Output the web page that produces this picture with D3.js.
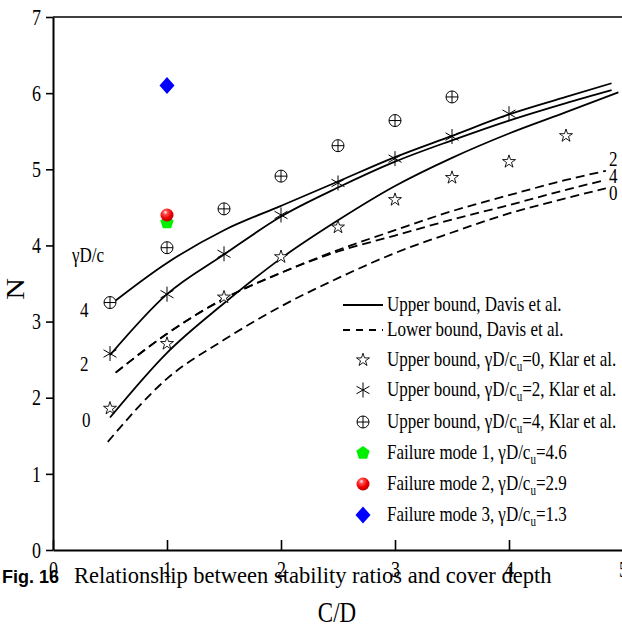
<!DOCTYPE html>
<meta charset="utf-8">
<script src="https://d3js.org/d3.v7.min.js"></script>
<style>
    body { margin: 0; background: #fff; }
    text { fill: #000; }
</style>
<div id="stability"></div>

<script>

    // Davis et al. bounds, one curve per gamma*D/c value
    const ubX = [0.5, 1, 1.5, 2, 2.5, 3, 3.5, 4, 4.5, 4.9];
    const ub4 = [3.22, 3.77, 4.2, 4.52, 4.84, 5.16, 5.44, 5.72, 5.95, 6.13];
    const ub2 = [2.56, 3.36, 3.88, 4.38, 4.76, 5.1, 5.38, 5.64, 5.87, 6.04];
    const ub0X = [0.5, 1, 1.5, 2, 2.5, 3, 3.5, 4, 4.5, 4.96];
    const ub0 = [1.74, 2.59, 3.24, 3.83, 4.33, 4.78, 5.15, 5.47, 5.75, 6.01];

    const lbX = [0.55, 1, 1.5, 2, 2.5, 3, 3.5, 4, 4.5, 4.85];
    const lb2 = [2.33, 2.84, 3.3, 3.64, 3.94, 4.2, 4.45, 4.66, 4.86, 4.98];
    const lb4 = [2.33, 2.84, 3.3, 3.64, 3.92, 4.13, 4.34, 4.53, 4.73, 4.86];
    const lb0X = [0.48, 1, 1.5, 2, 2.5, 3, 3.5, 4, 4.5, 4.85];
    const lb0 = [1.42, 2.25, 2.76, 3.2, 3.57, 3.9, 4.17, 4.42, 4.62, 4.75];

    // Klar et al. upper bound points
    const klar0X = [0.5, 1, 1.5, 2, 2.5, 3, 3.5, 4, 4.5];
    const klar0 = [1.86, 2.71, 3.32, 3.85, 4.24, 4.6, 4.89, 5.1, 5.44];
    const klar2X = [0.5, 1, 1.5, 2, 2.5, 3, 3.5, 4];
    const klar2 = [2.58, 3.36, 3.89, 4.4, 4.82, 5.14, 5.43, 5.73];
    const klar4X = [0.5, 1, 1.5, 2, 2.5, 3, 3.5];
    const klar4 = [3.25, 3.97, 4.48, 4.91, 5.31, 5.64, 5.95];

    // failure modes, all at C/D = 1
    const failX = [1, 1, 1];
    const failN = [4.3, 4.4, 6.1];

    const xTicks = [0, 1, 2, 3, 4, 5];
    const yTicks = [0, 1, 2, 3, 4, 5, 6, 7];

    const W = 622, H = 628;
    const SY = 1.25;   // glyphs in the figure are drawn tall
    const serif = "'Liberation Serif', 'Times New Roman', serif";

    const svg = d3.select("#stability")
        .append("svg")
        .attr("width", W)
        .attr("height", H);

    const x = d3.scaleLinear().domain([0, 5]).range([53, 623]);
    const y = d3.scaleLinear().domain([0, 7]).range([550, 17]);

    function stext(g, px, py, str, size, anchor) {
        return g.append("text")
            .attr("transform", `translate(${px},${py}) scale(1,${SY})`)
            .attr("font-family", serif)
            .attr("font-size", size)
            .attr("text-anchor", anchor || "start")
            .text(str);
    }

    // axes
    const xAxis = svg.append("g")
        .attr("transform", `translate(0,${y(0)})`)
        .call(d3.axisBottom(x).tickValues(xTicks).tickFormat(d3.format("d"))
            .tickSizeInner(-10).tickSizeOuter(0).tickPadding(16));
    const yAxis = svg.append("g")
        .attr("transform", `translate(${x(0)},0)`)
        .call(d3.axisLeft(y).tickValues(yTicks).tickFormat(d3.format("d"))
            .tickSizeInner(7).tickSizeOuter(0).tickPadding(5));

    [xAxis, yAxis].forEach(a => {
        a.select(".domain").attr("stroke-width", 2);
        a.selectAll(".tick line").attr("stroke-width", 1.6);
        a.selectAll(".tick text")
            .attr("font-family", serif)
            .attr("font-size", 18)
            .attr("fill", "#000");
    });
    xAxis.selectAll(".tick text").attr("transform", `scale(1,${SY})`).attr("dy", "0.3em");
    yAxis.selectAll(".tick text").attr("transform", `scale(1,${SY})`);

    // top frame line
    svg.append("line")
        .attr("x1", x(0)).attr("x2", W)
        .attr("y1", y(7)).attr("y2", y(7))
        .attr("stroke", "#000").attr("stroke-width", 1.6);

    const line = d3.line()
        .x(d => x(d[0]))
        .y(d => y(d[1]))
        .curve(d3.curveMonotoneX);

    const curves = [
        { xs: ubX, ys: ub4, dash: null },
        { xs: ubX, ys: ub2, dash: null },
        { xs: ub0X, ys: ub0, dash: null },
        { xs: lbX, ys: lb2, dash: "9,5" },
        { xs: lbX, ys: lb4, dash: "9,5" },
        { xs: lb0X, ys: lb0, dash: "9,5" }
    ];

    svg.append("g")
        .selectAll("path")
        .data(curves)
        .join("path")
        .attr("d", c => line(c.xs.map((v, i) => [v, c.ys[i]])))
        .attr("fill", "none")
        .attr("stroke", "#000")
        .attr("stroke-width", 1.8)
        .attr("stroke-dasharray", c => c.dash);

    // marker shapes
    const starPath = d3.symbol().type(d3.symbolStar).size(52)();
    function drawStar(g, px, py) {
        g.append("path").attr("d", starPath)
            .attr("transform", `translate(${px},${py})`)
            .attr("fill", "#fff").attr("stroke", "#000").attr("stroke-width", 0.9);
    }
    function drawAsterisk(g, px, py) {
        const r = 7.5;
        [90, 30, 150].forEach(a => {
            const t = a * Math.PI / 180;
            g.append("line")
                .attr("x1", px - r * Math.cos(t)).attr("y1", py - r * Math.sin(t))
                .attr("x2", px + r * Math.cos(t)).attr("y2", py + r * Math.sin(t))
                .attr("stroke", "#000").attr("stroke-width", 1);
        });
    }
    function drawCirclePlus(g, px, py) {
        const r = 6;
        g.append("circle").attr("cx", px).attr("cy", py).attr("r", r)
            .attr("fill", "#fff").attr("stroke", "#000").attr("stroke-width", 1);
        g.append("line").attr("x1", px - r).attr("x2", px + r).attr("y1", py).attr("y2", py)
            .attr("stroke", "#000").attr("stroke-width", 1);
        g.append("line").attr("x1", px).attr("x2", px).attr("y1", py - r).attr("y2", py + r)
            .attr("stroke", "#000").attr("stroke-width", 1);
    }
    function drawPentagon(g, px, py) {
        const r = 7;
        const pts = d3.range(5).map(i => {
            const t = -Math.PI / 2 + i * 2 * Math.PI / 5;
            return [px + r * Math.cos(t), py + r * Math.sin(t)];
        });
        g.append("polygon").attr("points", pts.map(p => p.join(",")).join(" "))
            .attr("fill", "#00f000");
    }
    function drawBall(g, px, py) {
        g.append("circle").attr("cx", px).attr("cy", py).attr("r", 6.5)
            .attr("fill", "url(#ball)");
    }
    function drawDiamond(g, px, py) {
        const w = 7.5, h = 8.5;
        g.append("polygon")
            .attr("points", `${px},${py - h} ${px + w},${py} ${px},${py + h} ${px - w},${py}`)
            .attr("fill", "#0000ff");
    }

    const grad = svg.append("defs").append("radialGradient")
        .attr("id", "ball").attr("cx", "0.38").attr("cy", "0.3").attr("r", "0.75");
    grad.append("stop").attr("offset", "0").attr("stop-color", "#ffffff");
    grad.append("stop").attr("offset", "0.22").attr("stop-color", "#ff5050");
    grad.append("stop").attr("offset", "0.6").attr("stop-color", "#f00000");
    grad.append("stop").attr("offset", "1").attr("stop-color", "#b00000");

    const marks = svg.append("g");
    klar0X.forEach((v, i) => drawStar(marks, x(v), y(klar0[i])));
    klar2X.forEach((v, i) => drawAsterisk(marks, x(v), y(klar2[i])));
    klar4X.forEach((v, i) => drawCirclePlus(marks, x(v), y(klar4[i])));
    drawPentagon(marks, x(failX[0]), y(failN[0]));
    drawBall(marks, x(failX[1]), y(failN[1]));
    drawDiamond(marks, x(failX[2]), y(failN[2]));

    // curve labels
    stext(svg, 72, 262, "\u03b3D/c", 17);
    stext(svg, 80, 317, "4", 17);
    stext(svg, 80, 371, "2", 17);
    stext(svg, 82, 427, "0", 17);
    stext(svg, 609, 166, "2", 17);
    stext(svg, 609, 183, "4", 17);
    stext(svg, 609, 200, "0", 17);

    // legend
    const legend = svg.append("g");
    const rows = [
        { y: 305, kind: "solid", label: ["Upper bound, Davis et al."] },
        { y: 330, kind: "dash", label: ["Lower bound, Davis et al."] },
        { y: 360, kind: "star", label: ["Upper bound, \u03b3D/c", "u", "=0, Klar et al."] },
        { y: 390, kind: "ast", label: ["Upper bound, \u03b3D/c", "u", "=2, Klar et al."] },
        { y: 422, kind: "cplus", label: ["Upper bound, \u03b3D/c", "u", "=4, Klar et al."] },
        { y: 453, kind: "pent", label: ["Failure mode 1, \u03b3D/c", "u", "=4.6"] },
        { y: 484, kind: "ball", label: ["Failure mode 2, \u03b3D/c", "u", "=2.9"] },
        { y: 515, kind: "diam", label: ["Failure mode 3, \u03b3D/c", "u", "=1.3"] }
    ];
    rows.forEach(r => {
        const sx = 363;
        if (r.kind === "solid" || r.kind === "dash") {
            legend.append("line")
                .attr("x1", 343).attr("x2", 383).attr("y1", r.y).attr("y2", r.y)
                .attr("stroke", "#000").attr("stroke-width", 1.8)
                .attr("stroke-dasharray", r.kind === "dash" ? "7,6" : null);
        } else if (r.kind === "star") drawStar(legend, sx, r.y);
        else if (r.kind === "ast") drawAsterisk(legend, sx, r.y);
        else if (r.kind === "cplus") drawCirclePlus(legend, sx, r.y);
        else if (r.kind === "pent") drawPentagon(legend, sx, r.y);
        else if (r.kind === "ball") drawBall(legend, sx, r.y);
        else if (r.kind === "diam") drawDiamond(legend, sx, r.y);

        const t = stext(legend, 387, r.y + 6, "", 17);
        t.append("tspan").text(r.label[0]);
        if (r.label.length > 1) {
            t.append("tspan").attr("font-size", 11).attr("dy", 4).text(r.label[1]);
            t.append("tspan").attr("dy", -4).text(r.label[2]);
        }
    });

    // axis titles
    svg.append("text")
        .attr("transform", `translate(24,289) rotate(-90) scale(1.2,1)`)
        .attr("font-family", serif)
        .attr("font-size", 25)
        .attr("text-anchor", "middle")
        .text("N");
    stext(svg, 337, 622, "C/D", 23, "middle");

    // figure caption
    const cap = svg.append("text")
        .attr("x", 2).attr("y", 583);
    cap.append("tspan")
        .attr("font-family", "'Liberation Sans', Arial, sans-serif")
        .attr("font-weight", "bold")
        .attr("font-size", 18)
        .text("Fig. 16");
    cap.append("tspan")
        .attr("x", 74)
        .attr("font-family", serif)
        .attr("font-size", 22.5)
        .text("Relationship between stability ratios and cover depth");

</script>
